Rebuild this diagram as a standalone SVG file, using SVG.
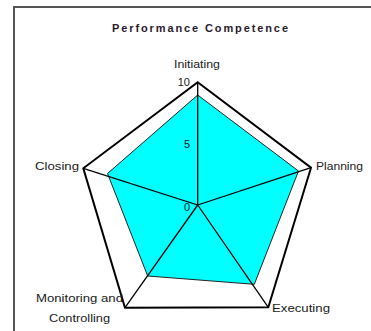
<svg xmlns="http://www.w3.org/2000/svg" width="371" height="331" viewBox="0 0 371 331">
<style>
.lbl{font-family:"Liberation Sans",Arial,sans-serif;font-size:11px;fill:#1a1a1a}
.title{font-family:"Liberation Sans",Arial,sans-serif;font-size:11px;font-weight:bold;fill:#2a1a30}
.spoke{stroke:#000;stroke-width:1.3;fill:none}
</style>
<rect width="371" height="331" fill="#fff"/>
<rect x="14" y="7" width="370" height="340" fill="none" stroke="#555" stroke-width="2"/>
<text class="title" x="200" y="31.5" text-anchor="middle" textLength="176" lengthAdjust="spacing">Performance Competence</text>
<g id="frame">
<polygon points="197.7,82.3 311,167.7 268.3,307.3 125,307.7 83.3,168.3" fill="#fff" stroke="#000" stroke-width="2"/>
</g>
<g id="data">
<polygon points="197.7,95 298.5,171 254.3,284.3 147.7,276 107.5,173.5" fill="#00ffff" stroke="#222" stroke-width="1"/>
</g>
<g id="spokes">
<line class="spoke" x1="197.7" y1="205" x2="197.7" y2="82.3"/>
<line class="spoke" x1="197.7" y1="205" x2="311" y2="167.7"/>
<line class="spoke" x1="197.7" y1="205" x2="268.3" y2="307.3"/>
<line class="spoke" x1="197.7" y1="205" x2="125" y2="307.7"/>
<line class="spoke" x1="197.7" y1="205" x2="83.3" y2="168.3"/>
</g>
<g id="axis-labels">
<text class="lbl" x="190" y="85.5" text-anchor="end" font-size="10.5">10</text>
<text class="lbl" x="190" y="147.5" text-anchor="end" font-size="10.5">5</text>
<text class="lbl" x="190" y="211" text-anchor="end" font-size="10.5">0</text>
</g>
<g id="node-initiating"><text class="lbl" x="197" y="68" text-anchor="middle" textLength="46" lengthAdjust="spacingAndGlyphs">Initiating</text></g>
<g id="node-planning"><text class="lbl" x="316" y="170" textLength="47" lengthAdjust="spacingAndGlyphs">Planning</text></g>
<g id="node-executing"><text class="lbl" x="272" y="312" textLength="58" lengthAdjust="spacingAndGlyphs">Executing</text></g>
<g id="node-monitoring"><text class="lbl" x="36" y="302" textLength="87" lengthAdjust="spacingAndGlyphs">Monitoring and</text><text class="lbl" x="49" y="322" textLength="61" lengthAdjust="spacingAndGlyphs">Controlling</text></g>
<g id="node-closing"><text class="lbl" x="35" y="170" textLength="44" lengthAdjust="spacingAndGlyphs">Closing</text></g>
</svg>
